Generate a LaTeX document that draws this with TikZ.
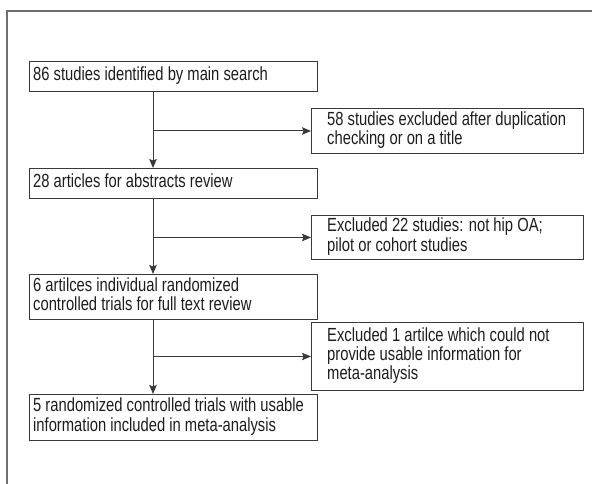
\documentclass[tikz,border=0pt]{standalone}
\usepackage{fontspec}
\usepackage{graphicx}
\setmainfont{Liberation Sans}
\usetikzlibrary{arrows.meta,calc}
\definecolor{ln}{HTML}{3A3A3A}
\definecolor{fr}{HTML}{6E6E6E}
\definecolor{tx}{HTML}{1E1C1D}
\newcommand\tlines[1]{\scalebox{0.777}[1]{\begin{tabular}{@{}l@{}}#1\end{tabular}}}
\begin{document}
\begin{tikzpicture}[x=1pt,y=-1pt,
  box/.style={draw=ln, line width=1pt, anchor=north west, inner sep=0pt},
  lbox/.style={box, minimum width=288pt},
  rbox/.style={box, minimum width=272pt},
  txt/.style={anchor=west, inner sep=0pt, text=tx, font=\fontsize{19}{18.7}\selectfont},
  arr/.style={draw=ln, line width=1pt, -{Stealth[length=9pt,width=7.5pt,inset=1.5pt]}},
  frame/.style={draw=fr, line width=1.3pt}]
\useasboundingbox (0,0) rectangle (592,484);
\draw[frame] (7,484) -- (7,11) -- (592,11);

\node[lbox, minimum height=30pt] (a) at (29,61) {};
\node[rbox, minimum height=45pt] (b) at (311,108) {};
\node[lbox, minimum height=30pt] (c) at (29,168) {};
\node[rbox, minimum height=44pt] (d) at (311,215) {};
\node[lbox, minimum height=45pt] (e) at (29,274) {};
\node[rbox, minimum height=68pt] (f) at (311,322) {};
\node[lbox, minimum height=46pt] (g) at (29,394) {};

\node[txt] (at) at ($(a.west)+(4,0)$) {\tlines{86 studies identified by main search}};
\node[txt] (bt) at ($(b.west)+(16,0)$) {\tlines{58 studies excluded after duplication\\checking or on a title}};
\node[txt] (ct) at ($(c.west)+(4,0)$) {\tlines{28 articles for abstracts review}};
\node[txt] (dt) at ($(d.west)+(16,0)$) {\tlines{Excluded 22 studies: not hip OA;\\pilot or cohort studies}};
\node[txt] (et) at ($(e.west)+(4,0)$) {\tlines{6 artilces individual randomized\\controlled trials for full text review}};
\node[txt] (ft) at ($(f.west)+(16,0)$) {\tlines{Excluded 1 artilce which could not\\provide usable information for\\meta-analysis}};
\node[txt] (gt) at ($(g.west)+(4,0)$) {\tlines{5 randomized controlled trials with usable\\information included in meta-analysis}};

\coordinate (sx) at (153,0);
\draw[arr] (a.south -| sx) -- (c.north -| sx);
\draw[arr] (c.south -| sx) -- (e.north -| sx);
\draw[arr] (e.south -| sx) -- (g.north -| sx);
\draw[arr] (b.west -| sx) -- (b.west);
\draw[arr] (d.west -| sx) -- (d.west);
\draw[arr] (f.west -| sx) -- (f.west);
\end{tikzpicture}
\end{document}
